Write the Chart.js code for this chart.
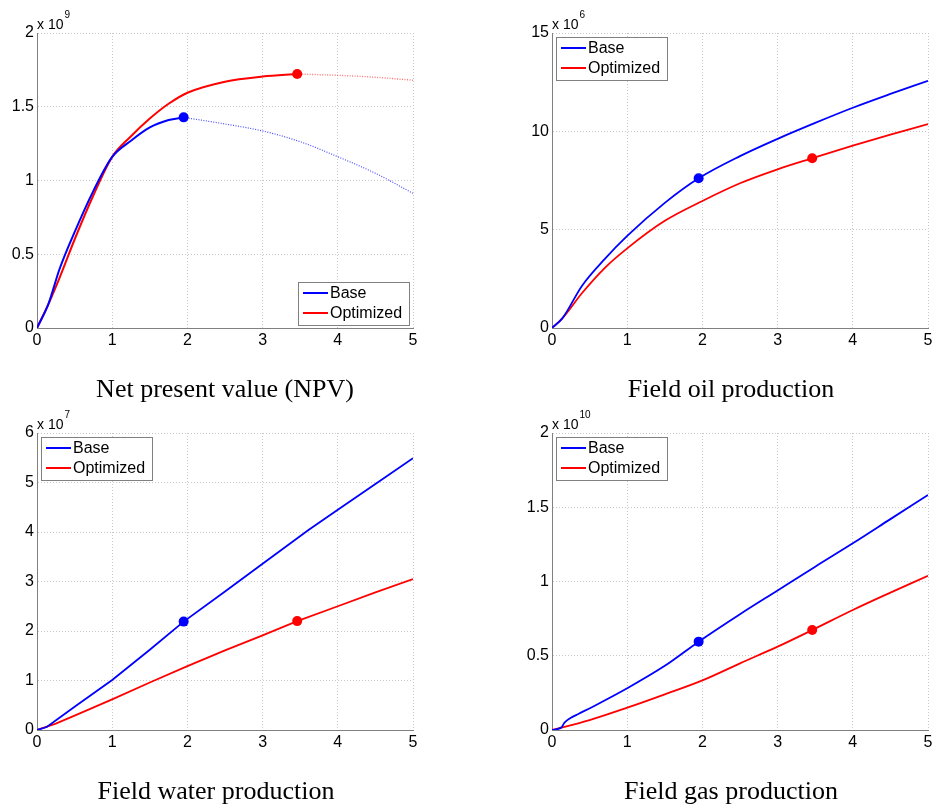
<!DOCTYPE html>
<html>
<head>
<meta charset="utf-8">
<script src="https://cdn.jsdelivr.net/npm/chart.js@4.4.1/dist/chart.umd.min.js"></script>
<style>
  body { margin: 0; background: #fff; width: 936px; height: 808px; overflow: hidden; }
  canvas { position: absolute; }
</style>
</head>
<body>
<canvas id="npv" width="468" height="404" style="left:0;top:0"></canvas>
<canvas id="oil" width="468" height="404" style="left:468px;top:0"></canvas>
<canvas id="water" width="468" height="404" style="left:0;top:404px"></canvas>
<canvas id="gas" width="468" height="404" style="left:468px;top:404px"></canvas>
<script>
// switching times where the markers sit
const baseSwitch = 1.95;
const optSwitch = 3.46;

const xTicks = [0, 1, 2, 3, 4, 5];

// net present value, x 10^9
const npvBaseX = [0, 0.15, 0.3, 0.5, 0.75, 1, 1.25, 1.5, 1.75, 1.95, 2.5, 3, 3.5, 4, 4.5, 5];
const npvBaseY = [0, 0.16, 0.40, 0.65, 0.93, 1.16, 1.27, 1.36, 1.41, 1.428, 1.383, 1.336, 1.263, 1.161, 1.049, 0.913];
const npvOptX = [0, 0.15, 0.3, 0.5, 0.75, 1, 1.25, 1.5, 1.75, 2, 2.5, 3, 3.46, 4, 4.5, 5];
const npvOptY = [0, 0.16, 0.34, 0.60, 0.90, 1.16, 1.30, 1.42, 1.52, 1.595, 1.67, 1.705, 1.722, 1.713, 1.70, 1.68];
const npvTicks = [0, 0.5, 1, 1.5, 2];

// field oil production, x 10^6
const oilBaseX = [0, 0.137, 0.4, 0.7, 1, 1.5, 1.95, 2.5, 3, 3.5, 4, 4.5, 5];
const oilBaseY = [0, 0.49, 2.15, 3.5, 4.68, 6.36, 7.61, 8.74, 9.62, 10.43, 11.2, 11.9, 12.57];
const oilOptX = [0, 0.137, 0.4, 0.7, 1, 1.5, 2, 2.5, 3, 3.46, 4, 4.5, 5];
const oilOptY = [0, 0.49, 1.78, 3.05, 4.05, 5.45, 6.46, 7.36, 8.07, 8.63, 9.27, 9.83, 10.37];
const oilTicks = [0, 5, 10, 15];

// field water production, x 10^7
const waterBaseX = [0, 0.13, 0.5, 1, 1.5, 1.95, 2.5, 3, 3.61, 4, 4.5, 5];
const waterBaseY = [0, 0.06, 0.47, 1.01, 1.62, 2.19, 2.80, 3.36, 4.04, 4.45, 4.97, 5.49];
const waterOptX = [0, 0.25, 0.5, 1, 1.5, 2, 2.5, 3, 3.46, 4, 4.5, 5];
const waterOptY = [0, 0.13, 0.29, 0.62, 0.96, 1.29, 1.61, 1.91, 2.20, 2.50, 2.78, 3.05];
const waterTicks = [0, 1, 2, 3, 4, 5, 6];

// field gas production, x 10^10
const gasBaseX = [0, 0.128, 0.16, 0.2, 0.26, 0.35, 0.6, 1, 1.5, 1.95, 2.5, 3, 3.5, 4, 4.5, 5];
const gasBaseY = [0, 0.018, 0.045, 0.065, 0.085, 0.108, 0.172, 0.281, 0.432, 0.595, 0.78, 0.94, 1.10, 1.257, 1.42, 1.583];
const gasOptX = [0, 0.5, 1, 1.5, 2, 2.5, 3, 3.46, 4, 4.5, 5];
const gasOptY = [0, 0.067, 0.150, 0.240, 0.334, 0.449, 0.561, 0.673, 0.808, 0.925, 1.039];
const gasTicks = [0, 0.5, 1, 1.5, 2];

const BLUE = '#0000ff';
const RED = '#ff0000';
const FONT = '"Liberation Sans", Arial, sans-serif';

// exponent, caption and boxed legend drawn over each axes
const decor = {
  id: 'decor',
  afterDatasetsDraw(chart, args, opts) {
    const ctx = chart.ctx, a = chart.chartArea;
    ctx.save();
    ctx.fillStyle = '#000';
    ctx.textAlign = 'left';
    ctx.textBaseline = 'alphabetic';
    ctx.font = '14px ' + FONT;
    ctx.fillText('x 10', a.left, a.top - 4);
    const w = ctx.measureText('x 10').width;
    ctx.font = '10px ' + FONT;
    ctx.fillText(opts.exponent, a.left + w + 1, a.top - 15);

    ctx.font = '26px "Liberation Serif", "Times New Roman", serif';
    ctx.textAlign = 'center';
    ctx.fillText(opts.caption, opts.captionX, a.bottom + 69);

    const items = chart.data.datasets.filter(d => d.inLegend);
    const bw = 111, bh = 43;
    let bx, by;
    if (opts.legendAt === 'se') {
      bx = a.right - 4 - bw; by = a.bottom - 3 - bh;
    } else {
      bx = a.left + 4; by = a.top + 4;
    }
    ctx.fillStyle = '#fff';
    ctx.fillRect(bx, by, bw, bh);
    ctx.strokeStyle = '#808080';
    ctx.lineWidth = 1;
    ctx.strokeRect(bx + 0.5, by + 0.5, bw, bh);
    items.forEach((d, i) => {
      const cy = by + 11 + i * 20;
      ctx.strokeStyle = d.borderColor;
      ctx.lineWidth = 2;
      ctx.beginPath();
      ctx.moveTo(bx + 5, cy);
      ctx.lineTo(bx + 30, cy);
      ctx.stroke();
      ctx.fillStyle = '#000';
      ctx.font = '16px ' + FONT;
      ctx.textAlign = 'left';
      ctx.textBaseline = 'middle';
      ctx.fillText(d.label, bx + 32, cy + 1);
    });
    ctx.restore();
  }
};

function pts(xs, ys) {
  return xs.map((x, i) => ({ x: x, y: ys[i] }));
}

function curve(label, data, color, opts) {
  return Object.assign({
    label: label,
    data: data,
    borderColor: color,
    borderWidth: 1.8,
    pointRadius: 0,
    fill: false,
    cubicInterpolationMode: 'monotone',
    order: 2
  }, opts || {});
}

function dot(p, color) {
  return {
    data: [p],
    showLine: false,
    pointRadius: 5,
    pointBackgroundColor: color,
    pointBorderColor: color,
    pointBorderWidth: 0,
    order: 0
  };
}

function panel(id, p) {
  const W = 468, H = 404;
  const a = p.area;
  const yw = 37, xh = 24;
  const base = pts(p.baseX, p.baseY);
  const opt = pts(p.optX, p.optY);
  const shape = p.straight ? { cubicInterpolationMode: 'default', tension: 0 } : {};
  const datasets = [];
  if (p.fadeAfterSwitch) {
    datasets.push(curve('Base', base.filter(q => q.x <= baseSwitch), BLUE, { inLegend: true, borderWidth: 2 }));
    datasets.push(curve('Optimized', opt.filter(q => q.x <= optSwitch), RED, { inLegend: true, borderWidth: 2 }));
    datasets.push(curve('', base.filter(q => q.x >= baseSwitch), 'rgba(0,0,255,0.7)', { borderWidth: 1.2, borderDash: [1, 1.5], order: 3 }));
    datasets.push(curve('', opt.filter(q => q.x >= optSwitch), 'rgba(255,0,0,0.55)', { borderWidth: 1.4, borderDash: [1, 1.5], order: 3 }));
  } else {
    datasets.push(curve('Base', base, BLUE, Object.assign({ inLegend: true }, shape)));
    datasets.push(curve('Optimized', opt, RED, Object.assign({ inLegend: true }, shape)));
  }
  datasets.push(dot(base.find(q => q.x === baseSwitch), BLUE));
  datasets.push(dot(opt.find(q => q.x === optSwitch), RED));

  const grid = { color: '#c8c8c8', lineWidth: 1, drawTicks: false };
  const border = { display: true, color: '#808080', width: 1, dash: [1, 2] };

  new Chart(document.getElementById(id), {
    type: 'line',
    data: { datasets: datasets },
    options: {
      responsive: false,
      animation: false,
      events: [],
      devicePixelRatio: 1,
      layout: {
        padding: { left: a.left - yw, top: a.top, right: W - a.right, bottom: H - a.bottom - xh }
      },
      scales: {
        x: {
          type: 'linear',
          min: 0,
          max: 5,
          afterBuildTicks: s => { s.ticks = xTicks.map(v => ({ value: v })); },
          afterFit: s => { s.height = xh; },
          grid: grid,
          border: border,
          ticks: { color: '#000', font: { family: FONT, size: 16 }, padding: 3, maxRotation: 0, callback: v => String(v) }
        },
        y: {
          type: 'linear',
          min: p.ticks[0],
          max: p.ticks[p.ticks.length - 1],
          afterBuildTicks: s => { s.ticks = p.ticks.map(v => ({ value: v })); },
          afterFit: s => { s.width = yw; },
          grid: grid,
          border: border,
          ticks: { color: '#000', font: { family: FONT, size: 16 }, padding: 3, callback: v => String(v) }
        }
      },
      plugins: {
        legend: { display: false },
        tooltip: { enabled: false },
        decor: { exponent: p.exponent, caption: p.caption, captionX: p.captionX, legendAt: p.legendAt }
      }
    },
    plugins: [decor]
  });
}

panel('npv', {
  baseX: npvBaseX, baseY: npvBaseY, optX: npvOptX, optY: npvOptY, ticks: npvTicks,
  exponent: '9', caption: 'Net present value (NPV)', captionX: 225, legendAt: 'se',
  fadeAfterSwitch: true,
  area: { left: 37, top: 33, right: 413, bottom: 328 }
});
panel('oil', {
  baseX: oilBaseX, baseY: oilBaseY, optX: oilOptX, optY: oilOptY, ticks: oilTicks,
  exponent: '6', caption: 'Field oil production', captionX: 263, legendAt: 'nw',
  area: { left: 84, top: 33, right: 460, bottom: 328 }
});
panel('water', {
  baseX: waterBaseX, baseY: waterBaseY, optX: waterOptX, optY: waterOptY, ticks: waterTicks,
  exponent: '7', caption: 'Field water production', captionX: 216, legendAt: 'nw',
  straight: true,
  area: { left: 37, top: 29, right: 413, bottom: 326 }
});
panel('gas', {
  baseX: gasBaseX, baseY: gasBaseY, optX: gasOptX, optY: gasOptY, ticks: gasTicks,
  exponent: '10', caption: 'Field gas production', captionX: 263, legendAt: 'nw',
  area: { left: 84, top: 29, right: 460, bottom: 326 }
});
</script>
</body>
</html>
